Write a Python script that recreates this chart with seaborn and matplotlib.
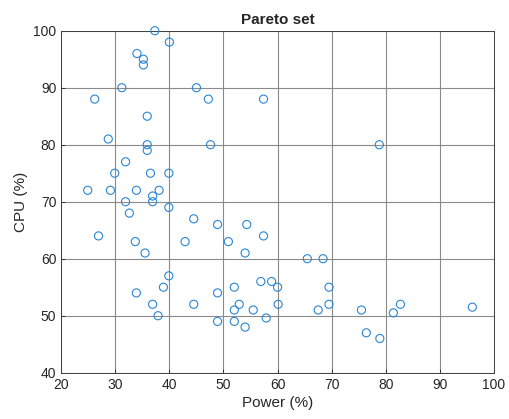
import matplotlib
matplotlib.use("Agg")
import matplotlib.pyplot as plt
import seaborn as sns
import pandas as pd

power = [37.3, 40, 34, 35.2, 35.2, 31.2, 45, 26.2, 47.2, 57.4, 35.9, 28.7, 35.9, 47.6, 35.9,
         31.9, 29.9, 36.5, 39.9, 24.9, 29.1, 33.9, 38.1, 36.9, 31.9, 36.9, 39.9, 32.6, 44.5,
         48.9, 54.3, 26.9, 57.4, 33.7, 42.9, 50.9, 35.5, 54.0, 39.9, 56.9, 58.9, 38.9, 52.0,
         60.0, 33.9, 48.9, 36.9, 44.5, 52.9, 60.1, 52.0, 55.5, 37.9, 57.9, 48.9, 52.0, 54.0,
         78.8, 65.5, 68.4, 69.5, 69.5, 67.5, 75.5, 82.7, 81.4, 96.0, 76.4, 78.9]
cpu = [100, 98, 96, 95, 94, 90, 90, 88, 88, 88, 85, 81, 80, 80, 79,
       77, 75, 75, 75, 72, 72, 72, 72, 71, 70, 70, 69, 68, 67,
       66, 66, 64, 64, 63, 63, 63, 61, 61, 57, 56, 56, 55, 55,
       55, 54, 54, 52, 52, 52, 52, 51, 51, 50, 49.6, 49, 49, 48,
       80, 60, 60, 55, 52, 51, 51, 52, 50.5, 51.5, 47, 46]

df = pd.DataFrame({"Power": power, "CPU": cpu})

sns.set_style("white")
plt.rcParams["font.family"] = ["Liberation Sans", "DejaVu Sans"]

fig = plt.figure(figsize=(5.10, 4.19), dpi=100)
ax = fig.add_axes([0.120, 0.1105, 0.8486, 0.8162])

sns.scatterplot(data=df, x="Power", y="CPU", ax=ax, marker="o", s=34,
                facecolors="none", edgecolor="#2a86d4", linewidth=0.8, legend=False,
                clip_on=False, zorder=3)

ax.set_xlim(20, 100)
ax.set_ylim(40, 100)
ax.set_xticks(range(20, 101, 10))
ax.set_yticks(range(40, 101, 10))
ax.grid(True, color="#8a8a8a", linewidth=0.8)
ax.set_axisbelow(True)
for s in ax.spines.values():
    s.set_visible(True)
    s.set_color("#404040")
    s.set_linewidth(0.7)
ax.tick_params(direction="in", length=3, colors="#262626", labelsize=10, width=0.6,
               top=False, right=False, bottom=True, left=True)
ax.set_xlabel("Power (%)", fontsize=11, color="#262626", labelpad=3)
ax.set_ylabel("CPU (%)", fontsize=11, color="#262626", labelpad=4)
ax.set_title("Pareto set", fontsize=11, fontweight="bold", pad=5)

fig.savefig("out.png", dpi=100)
